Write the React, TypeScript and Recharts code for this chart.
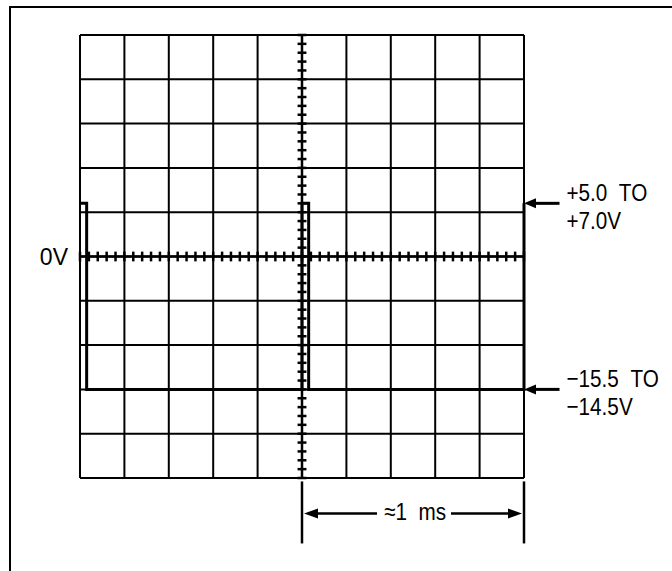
import React from "react";
import { LineChart, Line, XAxis, YAxis, CartesianGrid, ReferenceLine } from "recharts";

// scope graticule: 10 x 10 divisions, 0.2 ms/div and 5 V/div
const timeTicks = [0, 0.2, 0.4, 0.6, 0.8, 1.0, 1.2, 1.4, 1.6, 1.8, 2.0];
const voltTicks = [-25, -20, -15, -10, -5, 0, 5, 10, 15, 20, 25];

// waveform (ms, V)
const traceTime = [0, 0.03, 0.03, 1.0, 1.0, 1.03, 1.03, 2.0, 2.0];
const traceVolts = [6, 6, -15, -15, 6, 6, -15, -15, 6];

const highLevel = 6;
const lowLevel = -15;
const highLabel = ["+5.0\u00a0\u00a0TO", "+7.0V"];
const lowLabel = ["\u221215.5\u00a0\u00a0TO", "\u221214.5V"];
const periodStart = 1.0;
const periodEnd = 2.0;
const periodLabel = "\u22481\u00a0\u00a0ms";

// five subdivisions per division on the centre axes
const minorTimeTicks = Array.from({ length: 51 }, (_, i) => +(i * 0.04).toFixed(2));
const minorVoltTicks = Array.from({ length: 51 }, (_, i) => -25 + i);

const data = traceTime.map((t, i) => ({ t, v: traceVolts[i] }));

const FONT = "'Liberation Sans', Arial, sans-serif";
const FS = 23;

// the scope figure uses a condensed face, squeeze the text a bit
const Condensed = ({ x, y, anchor, children }: any) => (
  <text
    transform={`translate(${x},${y}) scale(0.9,1.06)`}
    textAnchor={anchor || "start"}
    fontFamily={FONT}
    fontSize={FS}
    fill="#000"
  >
    {children}
  </text>
);

const levelArrow = (lines: string[]) => (props: any) => {
  const { x1, y1, x2 } = props;
  return (
    <g>
      <line x1={x1 + 8} y1={y1} x2={x2} y2={y1} stroke="#000" strokeWidth={3} />
      <polygon points={`${x1},${y1} ${x1 + 12},${y1 - 5} ${x1 + 12},${y1 + 5}`} fill="#000" />
      <Condensed x={x2 + 7} y={y1 - 2}>{lines[0]}</Condensed>
      <Condensed x={x2 + 7} y={y1 + 26}>{lines[1]}</Condensed>
    </g>
  );
};

const periodMarker = (props: any) => {
  const { x1, y1, x2 } = props;
  const mid = (x1 + x2) / 2;
  const gapL = mid - 36;
  const gapR = mid + 38;
  return (
    <g>
      <line x1={x1} y1={y1 - 32} x2={x1} y2={y1 + 30} stroke="#000" strokeWidth={2.5} />
      <line x1={x2} y1={y1 - 32} x2={x2} y2={y1 + 30} stroke="#000" strokeWidth={2.5} />
      <line x1={x1 + 8} y1={y1} x2={gapL} y2={y1} stroke="#000" strokeWidth={2.5} />
      <line x1={gapR} y1={y1} x2={x2 - 8} y2={y1} stroke="#000" strokeWidth={2.5} />
      <polygon points={`${x1 + 2},${y1} ${x1 + 16},${y1 - 5} ${x1 + 16},${y1 + 5}`} fill="#000" />
      <polygon points={`${x2 - 2},${y1} ${x2 - 16},${y1 - 5} ${x2 - 16},${y1 + 5}`} fill="#000" />
      <Condensed x={mid + 2} y={y1 + 7} anchor="middle">{periodLabel}</Condensed>
    </g>
  );
};

export default function App() {
  return (
    <div style={{ position: "absolute", left: 0, top: 0, width: 672, height: 571, background: "#fff" }}>
      <div
        style={{
          position: "absolute",
          left: 9,
          top: 6,
          width: 680,
          height: 563,
          borderLeft: "2px solid #000",
          borderTop: "2px solid #000",
          borderBottom: "2px solid #000",
        }}
      />
      <LineChart
        width={672}
        height={571}
        data={data}
        margin={{ top: 35, right: 148, bottom: 93, left: 80 }}
        style={{ position: "absolute", left: 0, top: 0 }}
      >
        <CartesianGrid stroke="#000" strokeWidth={2} strokeOpacity={1} />
        <XAxis dataKey="t" type="number" domain={[0, 2]} ticks={timeTicks} hide />
        <YAxis type="number" domain={[-25, 25]} ticks={voltTicks} hide />
        <ReferenceLine x={0} stroke="#000" strokeWidth={2} />
        <ReferenceLine x={2} stroke="#000" strokeWidth={2} />
        <ReferenceLine y={25} stroke="#000" strokeWidth={2} />
        <ReferenceLine y={-25} stroke="#000" strokeWidth={2} />
        <ReferenceLine x={1} stroke="#000" strokeWidth={2.5} />
        <ReferenceLine
          y={0}
          stroke="#000"
          strokeWidth={2.5}
          label={{ value: "0V", position: "left", offset: 12, fontFamily: FONT, fontSize: FS, fill: "#000" }}
        />
        {minorTimeTicks.map((t) => (
          <ReferenceLine
            key={"mt" + t}
            segment={[
              { x: t, y: -0.55 },
              { x: t, y: 0.55 },
            ]}
            stroke="#000"
            strokeWidth={2.5}
          />
        ))}
        {minorVoltTicks.map((v) => (
          <ReferenceLine
            key={"mv" + v}
            segment={[
              { x: 0.98, y: v },
              { x: 1.02, y: v },
            ]}
            stroke="#000"
            strokeWidth={2.5}
          />
        ))}
        <Line
          type="linear"
          dataKey="v"
          stroke="#000"
          strokeWidth={3}
          dot={false}
          isAnimationActive={false}
        />
        <ReferenceLine
          segment={[
            { x: 2, y: highLevel },
            { x: 2.16, y: highLevel },
          ]}
          ifOverflow="visible"
          shape={levelArrow(highLabel)}
        />
        <ReferenceLine
          segment={[
            { x: 2, y: lowLevel },
            { x: 2.16, y: lowLevel },
          ]}
          ifOverflow="visible"
          shape={levelArrow(lowLabel)}
        />
        <ReferenceLine
          segment={[
            { x: periodStart, y: -29 },
            { x: periodEnd, y: -29 },
          ]}
          ifOverflow="visible"
          shape={periodMarker}
        />
      </LineChart>
    </div>
  );
}
